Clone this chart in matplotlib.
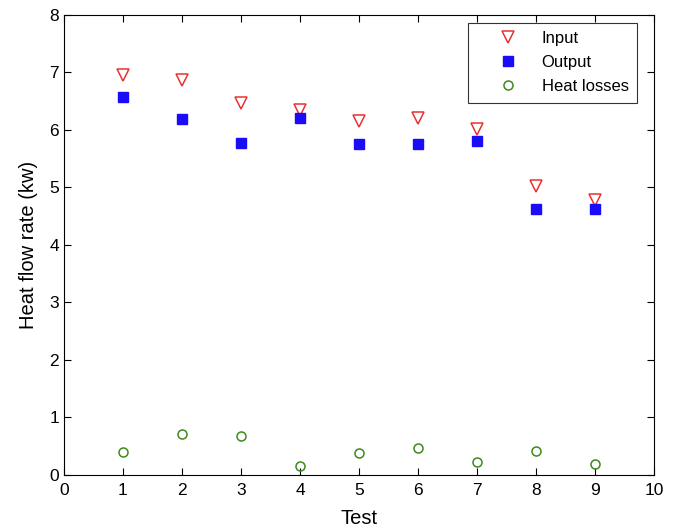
import matplotlib
matplotlib.use("Agg")
import matplotlib.pyplot as plt

plt.rcParams["font.family"] = ["Liberation Sans", "DejaVu Sans"]

tests = [1, 2, 3, 4, 5, 6, 7, 8, 9]
heat_input = [6.96, 6.87, 6.47, 6.35, 6.16, 6.21, 6.02, 5.03, 4.78]
heat_output = [6.57, 6.19, 5.77, 6.21, 5.76, 5.76, 5.81, 4.63, 4.63]
heat_losses = [0.39, 0.70, 0.68, 0.15, 0.38, 0.46, 0.22, 0.42, 0.19]

fig = plt.figure(figsize=(6.73, 5.28), dpi=100)
ax = fig.add_axes([0.095, 0.101, 0.877, 0.871])

ax.plot(tests, heat_input, linestyle="none", marker="v", markersize=8,
        markerfacecolor="none", markeredgecolor="#e8312f", markeredgewidth=1.1,
        label="Input")
ax.plot(tests, heat_output, linestyle="none", marker="s", markersize=7,
        markerfacecolor="#1a0cf5", markeredgecolor="#1a0cf5", label="Output")
ax.plot(tests, heat_losses, linestyle="none", marker="o", markersize=6.5,
        markerfacecolor="none", markeredgecolor="#3e8a1e", markeredgewidth=1.1,
        label="Heat losses")

ax.set_xlim(0, 10)
ax.set_ylim(0, 8)
ax.set_xticks(range(0, 11))
ax.set_yticks(range(0, 9))
ax.tick_params(direction="in", top=True, right=True, length=5, labelsize=12.5)
ax.tick_params(axis="x", pad=6)
ax.set_xlabel("Test", fontsize=14.5, labelpad=8)
ax.set_ylabel("Heat flow rate (kw)", fontsize=14.5, labelpad=8)

# légende façon matlab : marqueur décalé vers la droite
leg = ax.legend(loc="upper right", bbox_to_anchor=(0.971, 0.983),
                borderaxespad=0, fontsize=12, frameon=True, fancybox=False,
                edgecolor="black", borderpad=0.5, handletextpad=0.2,
                handlelength=3.7, labelspacing=0.55)
leg.get_frame().set_linewidth(0.8)

fig.savefig("out.png", dpi=100)
